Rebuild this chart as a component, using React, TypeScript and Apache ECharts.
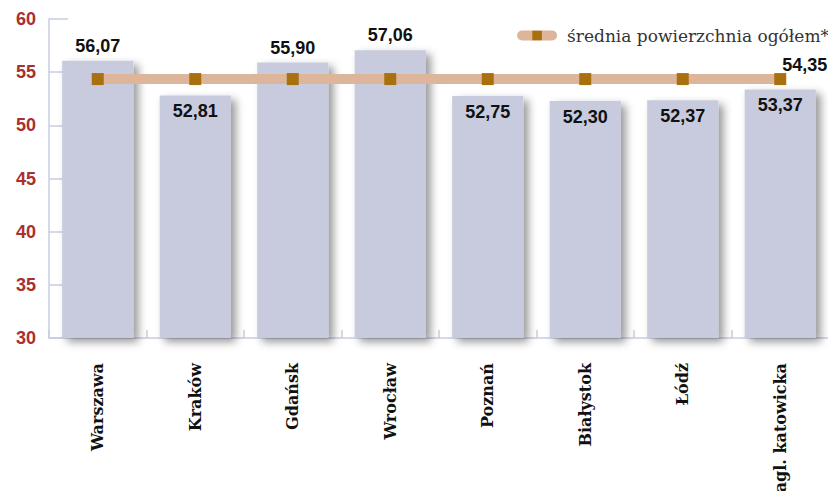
import React, { useEffect, useRef } from "react";
import * as echarts from "echarts";

const categories = ["Warszawa", "Kraków", "Gdańsk", "Wrocław", "Poznań", "Białystok", "Łódź", "agl. katowicka"];
const barValues = [56.07, 52.81, 55.9, 57.06, 52.75, 52.3, 52.37, 53.37];
const avgValues = [54.35, 54.35, 54.35, 54.35, 54.35, 54.35, 54.35, 54.35];
const avgName = "średnia powierzchnia ogółem*";
const yTicks = { min: 30, max: 60, interval: 5 };

const fmt = (v: number) => v.toFixed(2).replace(".", ",");

export default function App() {
  const ref = useRef<HTMLDivElement>(null);
  useEffect(() => {
    if (!ref.current) return;
    const chart = echarts.init(ref.current, null, { renderer: "svg" });
    const avg = avgValues[0];
    chart.setOption({
      animation: false,
      grid: { left: 49, right: 7, top: 19, bottom: 161, containLabel: false, outerBoundsMode: "none" },
      legend: {
        right: 2,
        top: 22,
        itemWidth: 30,
        itemHeight: 12,
        itemGap: 14,
        data: [avgName],
        itemStyle: { color: "#a8700f" },
        lineStyle: { color: "#dcb59b", width: 10, cap: "round" },
        textStyle: { fontFamily: "DejaVu Serif", fontSize: 17, color: "#333", padding: [0, 0, 0, 10] },
      },
      xAxis: {
        type: "category",
        data: categories,
        boundaryGap: true,
        axisLine: { show: true, lineStyle: { color: "#c9cce0", width: 1.5 } },
        axisTick: { show: true, inside: true, length: 8, lineStyle: { color: "#c9cce0", width: 1.5 } },
        axisLabel: {
          rotate: 90,
          margin: 25,
          fontFamily: "DejaVu Serif",
          fontWeight: "bold",
          fontSize: 16,
          color: "#111",
          interval: 0,
        },
      },
      yAxis: {
        type: "value",
        min: yTicks.min,
        max: yTicks.max,
        interval: yTicks.interval,
        axisLine: { show: true, lineStyle: { color: "#c9cce0", width: 1.5 } },
        axisTick: { show: true, inside: true, length: 19, lineStyle: { color: "#c9cce0", width: 1.5 } },
        splitLine: { show: false },
        axisLabel: {
          margin: 13,
          fontFamily: "Liberation Sans, Arial, sans-serif",
          fontWeight: "bold",
          fontSize: 18,
          color: "#a8302e",
        },
      },
      series: [
        {
          type: "bar",
          barWidth: "73%",
          data: barValues.map((v) => ({
            value: v,
            label: {
              show: true,
              position: v > avg ? "top" : "insideTop",
              distance: v > avg ? 6 : 7,
              formatter: (p: any) => fmt(p.value),
              fontFamily: "Liberation Sans, Arial, sans-serif",
              fontWeight: "bold",
              fontSize: 18,
              color: "#111",
            },
          })),
          itemStyle: {
            color: "#c8cbdd",
            shadowColor: "rgba(0,0,0,0.4)",
            shadowBlur: 8,
            shadowOffsetX: 5,
            shadowOffsetY: 4,
          },
        },
        {
          type: "line",
          name: avgName,
          data: avgValues.map((v, i) => ({
            value: v,
            label:
              i === avgValues.length - 1
                ? {
                    show: true,
                    position: "right",
                    offset: [-9, -14],
                    formatter: (p: any) => fmt(p.value),
                    fontFamily: "Liberation Sans, Arial, sans-serif",
                    fontWeight: "bold",
                    fontSize: 18,
                    color: "#111",
                  }
                : { show: false },
          })),
          symbol: "rect",
          symbolSize: 12,
          itemStyle: { color: "#a8700f" },
          lineStyle: {
            color: "#dcb59b",
            width: 10,
            cap: "butt",
          },
          z: 3,
        },
      ],
    });
    return () => chart.dispose();
  }, []);
  return <div ref={ref} style={{ width: 836, height: 499, margin: -8 }} />;
}
